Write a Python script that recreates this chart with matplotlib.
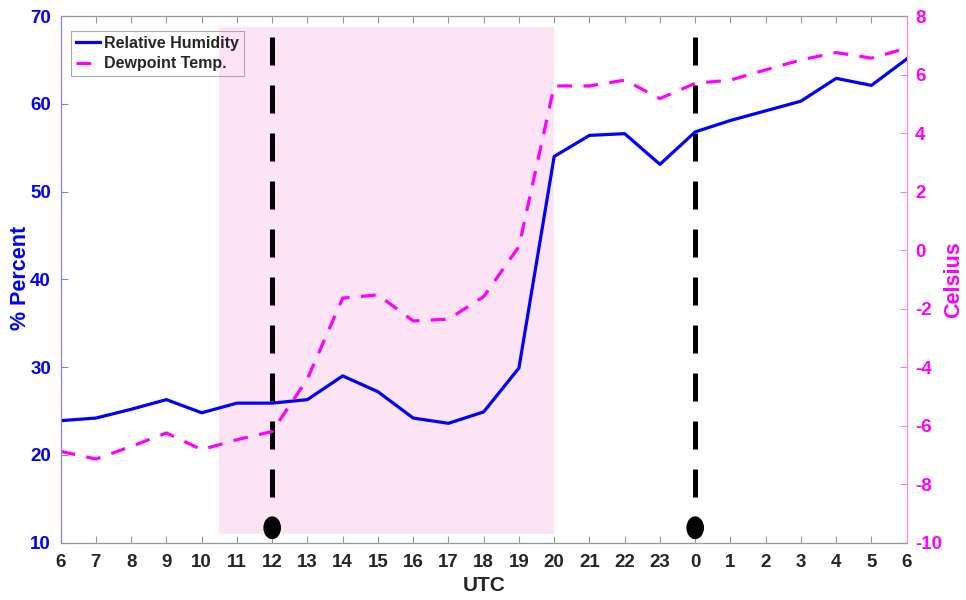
import matplotlib
matplotlib.use("Agg")
import matplotlib.pyplot as plt
from matplotlib.patches import Rectangle, Ellipse
from matplotlib.lines import Line2D

plt.rcParams['font.family'] = ['Liberation Sans', 'DejaVu Sans']
plt.rcParams['font.weight'] = 'bold'
plt.rcParams['axes.unicode_minus'] = False

hour_labels = ['6', '7', '8', '9', '10', '11', '12', '13', '14', '15', '16', '17', '18',
               '19', '20', '21', '22', '23', '0', '1', '2', '3', '4', '5', '6']
rel_humidity = [23.9, 24.2, 25.2, 26.3, 24.8, 25.9, 25.9, 26.3, 29.0, 27.2, 24.2, 23.6, 24.9,
                29.9, 54.0, 56.4, 56.6, 53.1, 56.8, 58.1, 59.2, 60.3, 62.9, 62.1, 65.1]
dewpoint = [-6.88, -7.14, -6.71, -6.25, -6.82, -6.48, -6.2, -4.4, -1.64, -1.53, -2.42, -2.36,
            -1.59, 0.12, 5.61, 5.61, 5.81, 5.18, 5.70, 5.81, 6.16, 6.50, 6.75, 6.56, 6.90]
shade_span = [4.5, 14.0]          # 10:30 to 20 UTC (index units)
shade_range = [11.0, 68.7]        # in % axis units
event_idx = [6, 18]               # 12 UTC and 0 UTC

x = list(range(len(hour_labels)))

fig = plt.figure(figsize=(9.66, 6.0), dpi=100)
ax = fig.add_axes([0.0628, 0.0955, 0.8758, 0.8778])
ax2 = ax.twinx()

blue = '#0000ff'
mag = '#ff00ff'
dark = '#262626'

ax.add_patch(Rectangle((shade_span[0], shade_range[0]), shade_span[1] - shade_span[0],
                       shade_range[1] - shade_range[0], facecolor='#fde4f5',
                       edgecolor='none', zorder=0))

for xi in event_idx:
    ax.plot([xi, xi], [67.6, 14.6], color='black', lw=3.6,
            linestyle=(0, (5.6, 4.0)), solid_capstyle='butt', dash_capstyle='butt', zorder=2)
    ax.add_patch(Ellipse((xi, 11.7), 0.5, 2.6, facecolor='black', edgecolor='none', zorder=3))

ax.plot(x, rel_humidity, color=blue, lw=2.3, zorder=4)
ax2.plot(x, dewpoint, color=mag, lw=2.3, linestyle=(0, (4.6, 3.6)), dash_capstyle='butt')

ax.set_xlim(0, 24)
ax.set_ylim(10, 70)
ax2.set_ylim(-10, 8)
ax.set_xticks(x)
ax.set_xticklabels(hour_labels)
ax.set_yticks(range(10, 71, 10))
ax2.set_yticks(range(-10, 9, 2))

ax.tick_params(axis='x', direction='in', top=True, length=5, width=0.8, color='#999999',
               labelsize=13.5, labelcolor=dark, pad=8)
ax.tick_params(axis='y', direction='in', length=5, width=0.8, color='#8080ff',
               labelsize=13.5, labelcolor=blue, pad=7)
ax2.tick_params(axis='y', direction='in', length=5, width=0.8, color='#ff80ff',
                labelsize=13.5, labelcolor=mag, pad=6)

for a in (ax, ax2):
    a.spines['top'].set_color('#999999')
    a.spines['bottom'].set_color('#999999')
    a.spines['left'].set_color('#8080ff')
    a.spines['right'].set_color('#ff80ff')
    for s in a.spines.values():
        s.set_linewidth(0.8)

ax.set_xlabel('UTC', fontsize=15, fontweight='bold', color=dark, va='center', ha='center')
ax.xaxis.set_label_coords(0.5003, -0.081)
ax.set_ylabel('% Percent', fontsize=15.5, fontweight='bold', color=blue,
              rotation=90, va='center', ha='center')
ax.yaxis.set_label_coords(-0.047, 0.503)
ax2.set_ylabel('Celsius', fontsize=15.5, fontweight='bold', color=mag,
               rotation=90, va='center', ha='center')
ax2.yaxis.set_label_coords(1.0555, 0.50)

handles = [Line2D([], [], color=blue, lw=2.3),
           Line2D([], [], color=mag, lw=2.3, linestyle=(0, (4.6, 3.6)))]
leg = ax2.legend(handles, ['Relative Humidity', 'Dewpoint Temp.'], loc='upper left',
                 bbox_to_anchor=(0.012, 0.972), borderaxespad=0, fancybox=False,
                 edgecolor='#aaaaaa', facecolor='none', framealpha=0,
                 prop={'size': 11.5, 'weight': 'bold'}, handlelength=1.5, handletextpad=0.3,
                 borderpad=0.3, labelspacing=0.35)
leg.get_frame().set_alpha(None)
leg.get_frame().set_facecolor('none')
leg.get_frame().set_linewidth(0.8)
for t in leg.get_texts():
    t.set_color(dark)

fig.savefig('out.png', dpi=100)
